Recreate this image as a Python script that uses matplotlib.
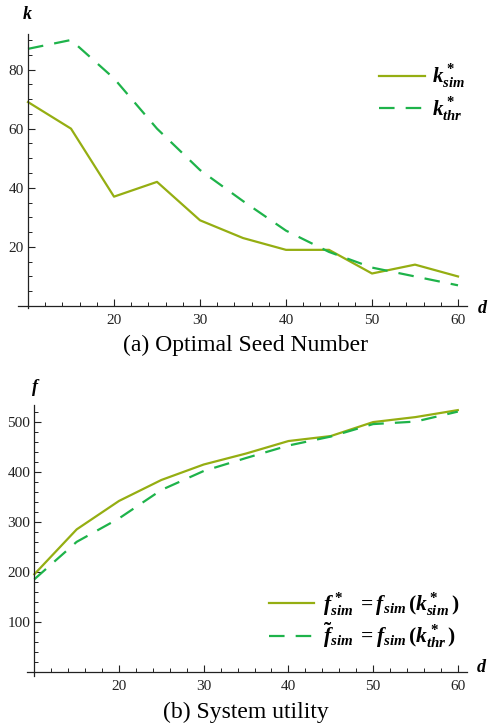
import matplotlib
matplotlib.use("Agg")
import matplotlib.pyplot as plt
from matplotlib.ticker import FixedLocator

plt.rcParams['font.family'] = ['Liberation Serif', 'DejaVu Serif']
plt.rcParams['mathtext.fontset'] = 'custom'
plt.rcParams['mathtext.rm'] = 'Liberation Serif:bold'
plt.rcParams['mathtext.it'] = 'Liberation Serif:italic:bold'
plt.rcParams['mathtext.bf'] = 'Liberation Serif:italic:bold'

d = [10, 15, 20, 25, 30, 35, 40, 45, 50, 55, 60]
k_sim = [69, 60, 37, 42, 29, 23, 19, 19, 11, 14, 10]
k_thr = [87, 90, 77, 60, 46, 35.5, 25.5, 18.3, 13, 10, 7]
f_sim = [195, 285, 342, 384, 415, 437, 462, 472, 500, 510, 524]
f_thr = [185, 260, 307, 364, 402, 428, 453, 471, 496, 501, 521]

top_xticks = [20, 30, 40, 50, 60]
top_yticks = [20, 40, 60, 80]
bot_yticks = [100, 200, 300, 400, 500]

c_sim = '#95ae12'
c_thr = '#1eb34a'
dash = (7, 5)

fig = plt.figure(figsize=(4.91, 7.28), dpi=100)
ax1 = fig.add_axes([0.0369, 0.5764, 0.9143, 0.3768])
ax2 = fig.add_axes([0.0544, 0.0720, 0.8961, 0.3722])


def style(ax, x0, ymin_step, yticks, ytop):
    for s in ['top', 'right']:
        ax.spines[s].set_visible(False)
    ax.spines['left'].set_position(('data', x0))
    ax.spines['bottom'].set_position(('data', 0))
    for s in ['left', 'bottom']:
        ax.spines[s].set_linewidth(0.9)
        ax.spines[s].set_color('#222222')
    ax.xaxis.set_major_locator(FixedLocator(top_xticks))
    ax.xaxis.set_minor_locator(FixedLocator([v for v in range(12, 61, 2) if v % 10 != 0]))
    ax.yaxis.set_major_locator(FixedLocator(yticks))
    ax.yaxis.set_minor_locator(FixedLocator([v for v in
                                             [i * ymin_step for i in range(1, int(ytop / ymin_step) + 1)]
                                             if v not in yticks]))
    ax.tick_params(which='major', direction='in', length=5, width=0.8, labelsize=11,
                   color='#222222', labelcolor='#222222')
    ax.tick_params(which='minor', direction='in', length=3, width=0.7, color='#222222')
    ax.tick_params(axis='x', pad=6)
    ax.tick_params(axis='y', pad=3)


# Top chart
ax1.plot(d, k_sim, color=c_sim, lw=1.6, label=r'$k^*_{sim}$')
ax1.plot(d, k_thr, color=c_thr, lw=1.6, dashes=dash, label=r'$k^*_{thr}$')
ax1.set_xlim(8.85, 61.05)
ax1.set_ylim(-0.8, 92)
style(ax1, 10, 5, top_yticks, 90)
ax1.text(0.02, 1.07, r'$k$', transform=ax1.transAxes, ha='center', va='center', fontsize=13)
ax1.text(1.035, 0.0, r'$d$', transform=ax1.transAxes, ha='center', va='center', fontsize=13)
leg1 = ax1.legend(loc='upper left', bbox_to_anchor=(0.785, 0.925), frameon=False, fontsize=15,
                  handlelength=2.2, handletextpad=0.35, labelspacing=0.25, borderaxespad=0)
fig.text(0.5, 0.526, '(a) Optimal Seed Number', ha='center', va='center', fontsize=17)

# Bottom chart
ax2.plot(d, f_sim, color=c_sim, lw=1.6, label=r'$f^*_{sim}\;=f_{sim}\,(k^*_{sim}\,)$')
ax2.plot(d, f_thr, color=c_thr, lw=1.6, dashes=dash, label=r'$\tilde{f}_{sim}\;=f_{sim}\,(k^*_{thr}\,)$')
ax2.set_xlim(9.1, 61.05)
ax2.set_ylim(-8, 535)
style(ax2, 10, 20, bot_yticks, 530)
ax2.text(0.02, 1.065, r'$f$', transform=ax2.transAxes, ha='center', va='center', fontsize=13)
ax2.text(1.035, 0.03, r'$d$', transform=ax2.transAxes, ha='center', va='center', fontsize=13)
leg2 = ax2.legend(loc='upper left', bbox_to_anchor=(0.53, 0.345), frameon=False, fontsize=15.5,
                  handlelength=2.1, handletextpad=0.45, labelspacing=0.12, borderaxespad=0)
fig.text(0.5, 0.021, '(b) System utility', ha='center', va='center', fontsize=17)

fig.savefig('out.png', dpi=100)
